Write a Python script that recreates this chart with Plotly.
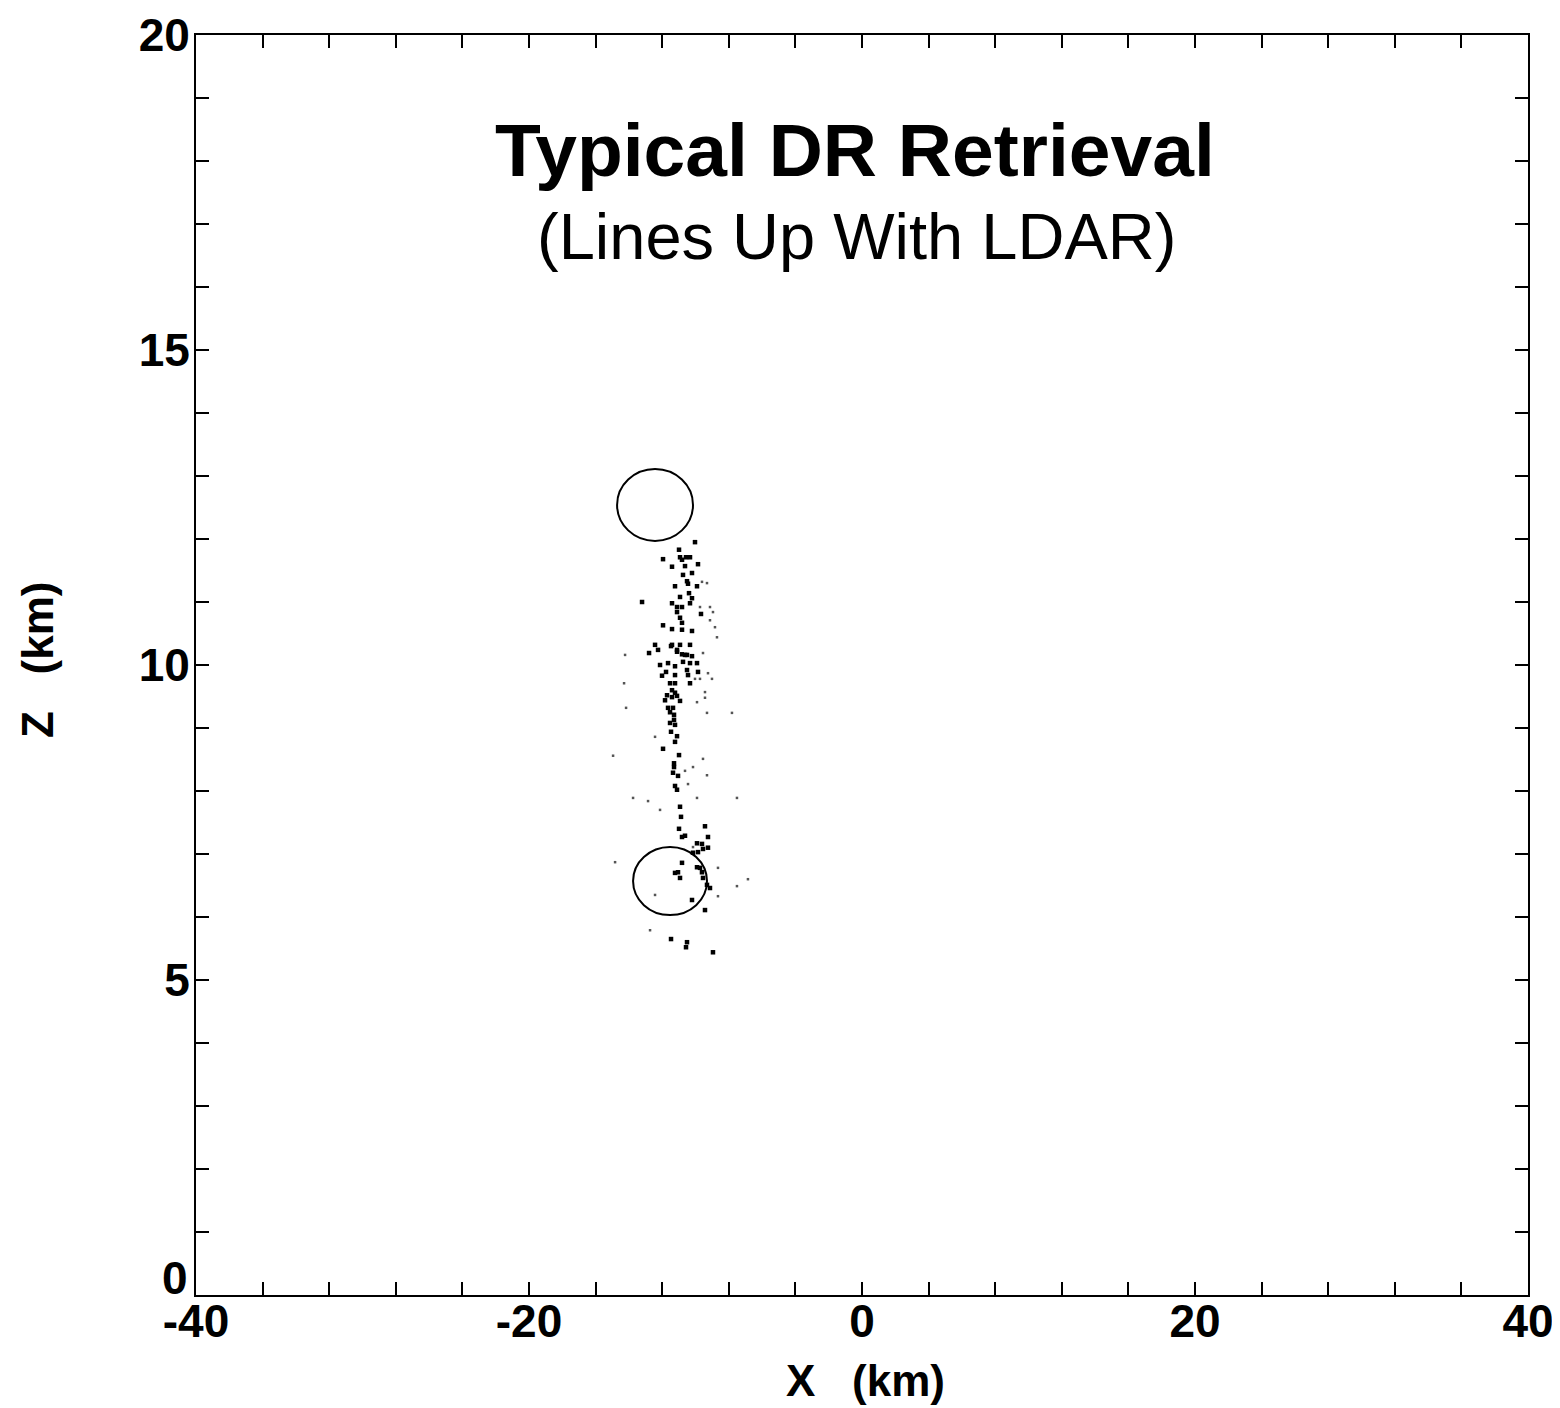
import plotly.graph_objects as go

# ---- data (km) ----
dots_x = [-10.03, -10.99, -10.93, -10.57, -10.33, -11.95, -10.81, -11.41, -10.63, -9.85,
          -10.21, -10.75, -10.51, -10.45, -9.91, -11.23, -10.39, -10.21, -10.93, -10.33,
          -13.21, -11.41, -11.11, -10.81, -11.11, -9.67, -10.93, -10.81, -11.95, -11.41,
          -10.81, -10.21, -11.41, -11.11, -10.81, -10.33, -12.43, -10.51,
          -11.47, -10.93, -12.79, -12.25, -11.11, -10.63, -10.21, -12.13, -11.65, -11.23,
          -10.75, -10.33, -9.91, -11.77, -10.51, -9.85, -12.01, -11.23, -10.45, -11.53,
          -11.23, -10.33, -11.41, -11.23, -11.71, -11.41, -11.11, -11.83, -10.93, -11.65,
          -11.35, -11.53, -11.29, -11.29, -11.53, -11.23, -11.47, -11.11, -11.23, -11.95,
          -10.99, -11.29, -11.29, -11.35, -11.05, -11.23, -11.11, -10.93, -10.87,
          -10.99, -10.81, -10.63, -9.43, -9.25, -9.91, -9.61, -9.55, -9.25, -9.85,
          -10.15, -10.81, -9.91, -9.73, -9.61, -11.05, -11.23, -10.93, -9.55, -9.31,
          -9.13, -10.21, -9.43, -11.47, -10.51, -10.57, -8.95]
dots_z = [11.95, 11.83, 11.71, 11.71, 11.71, 11.68, 11.67, 11.56, 11.57, 11.60,
          11.46, 11.43, 11.33, 11.29, 11.25, 11.25, 11.14, 11.06, 11.08, 10.98,
          11.00, 10.98, 10.92, 10.92, 10.84, 10.81, 10.75, 10.67, 10.63, 10.57,
          10.56, 10.54, 10.32, 10.21, 10.17, 10.32, 10.32, 10.16,
          10.30, 10.32, 10.19, 10.24, 10.24, 10.16, 10.14, 10.00, 10.03, 9.98,
          10.05, 10.03, 10.03, 9.89, 9.92, 9.89, 9.83, 9.84, 9.84, 9.71,
          9.71, 9.71, 9.60, 9.56, 9.52, 9.49, 9.51, 9.44, 9.43, 9.32,
          9.32, 9.25, 9.21, 9.13, 9.08, 9.05, 8.94, 8.87, 8.78, 8.67,
          8.57, 8.44, 8.38, 8.29, 8.24, 8.08, 8.02, 7.75, 7.59,
          7.40, 7.27, 7.29, 7.44, 7.27, 7.17, 7.16, 7.08, 7.10, 7.03,
          7.02, 6.86, 6.79, 6.78, 6.71, 6.71, 6.70, 6.62, 6.62, 6.51,
          6.46, 6.27, 6.11, 5.65, 5.60, 5.52, 5.44]

faint_x = [-9.61, -9.31, -9.13, -9.73, -8.95, -9.13, -8.83, -8.71, -9.55, -9.25,
           -10.03, -9.73, -9.01, -9.43, -9.91, -9.43, -9.31, -12.43, -10.63,
           -9.55, -9.31, -10.15, -10.45, -9.91, -7.51, -7.81, -14.23, -14.29, -14.17,
           -14.95, -13.75, -12.85, -12.13, -10.15, -8.65, -8.65,
           -12.73, -12.43, -14.83, -7.51, -6.85]
faint_z = [11.32, 11.30, 10.92, 10.92, 10.84, 10.71, 10.60, 10.44, 10.19, 9.87,
           9.78, 9.78, 9.78, 9.57, 9.41, 9.48, 9.24, 8.86, 8.32,
           8.51, 8.25, 8.38, 8.11, 7.89, 7.89, 9.24, 10.16, 9.71, 9.32,
           8.56, 7.89, 7.84, 7.70, 7.11, 6.78, 6.33,
           5.79, 6.35, 6.87, 6.49, 6.60]

circle_cx = [-12.43, -11.53]
circle_cz = [12.54, 6.57]
circle_rx = [2.28, 2.22]
circle_rz = [0.57, 0.54]

x_tickvals = list(range(-40, 41, 4))
x_ticktext = [str(v) if v % 20 == 0 else "" for v in x_tickvals]
y_tickvals = list(range(0, 21, 1))
y_ticktext = [str(v) if (v % 5 == 0 and v != 0) else "" for v in y_tickvals]

title_text = "Typical DR Retrieval"
subtitle_text = "(Lines Up With LDAR)"
x_title = "X\u00a0\u00a0\u00a0(km)"
y_title = "Z\u00a0\u00a0\u00a0(km)"

FONT = "Liberation Sans, Arial, sans-serif"

fig = go.Figure()
fig.add_trace(go.Scatter(x=faint_x, y=faint_z, mode="markers",
                         marker=dict(symbol="square", size=2.5, color="#555555"),
                         showlegend=False, hoverinfo="skip"))
fig.add_trace(go.Scatter(x=dots_x, y=dots_z, mode="markers",
                         marker=dict(symbol="square", size=4.5, color="black"),
                         showlegend=False))

for cx, cz, rx, rz in zip(circle_cx, circle_cz, circle_rx, circle_rz):
    fig.add_shape(type="circle", xref="x", yref="y",
                  x0=cx - rx, x1=cx + rx, y0=cz - rz, y1=cz + rz,
                  line=dict(color="black", width=2))

axis_common = dict(showline=True, linecolor="black", linewidth=2, mirror="ticks",
                   ticks="inside", ticklen=13, tickwidth=2, tickcolor="black",
                   showgrid=False, zeroline=False, automargin=False,
                   tickfont=dict(family=FONT, size=46, color="black", weight="bold"))

fig.update_xaxes(range=[-40, 40], tickmode="array", tickvals=x_tickvals,
                 ticktext=x_ticktext, ticklabelstandoff=-15, **axis_common)
fig.update_yaxes(range=[0, 20], tickmode="array", tickvals=y_tickvals,
                 ticktext=y_ticktext, ticklabelstandoff=-5, **axis_common)

annotations = [
    dict(text="<b>" + title_text + "</b>", x=0.495, y=0.9087, xref="paper", yref="paper",
         showarrow=False, font=dict(family=FONT, size=75, color="black"),
         xanchor="center", yanchor="middle"),
    dict(text=subtitle_text, x=0.496, y=0.8397, xref="paper", yref="paper",
         showarrow=False, font=dict(family=FONT, size=65, color="black"),
         xanchor="center", yanchor="middle"),
    dict(text="<b>" + x_title + "</b>", x=0.503, y=-0.0675, xref="paper", yref="paper",
         showarrow=False, font=dict(family=FONT, size=44, color="black"),
         xanchor="center", yanchor="middle"),
    dict(text="<b>" + y_title + "</b>", x=-0.1186, y=0.504, xref="paper", yref="paper",
         showarrow=False, textangle=-90, font=dict(family=FONT, size=44, color="black"),
         xanchor="center", yanchor="middle"),
    dict(text="<b>0</b>", x=-40, y=0, xref="x", yref="y", yshift=17, xshift=-6,
         showarrow=False, font=dict(family=FONT, size=46, color="black"),
         xanchor="right", yanchor="middle"),
]

fig.update_layout(
    width=1560, height=1408,
    margin=dict(l=188, r=40, t=27, b=121),
    paper_bgcolor="white", plot_bgcolor="white",
    annotations=annotations,
    showlegend=False,
)

fig.write_html("out.html")
